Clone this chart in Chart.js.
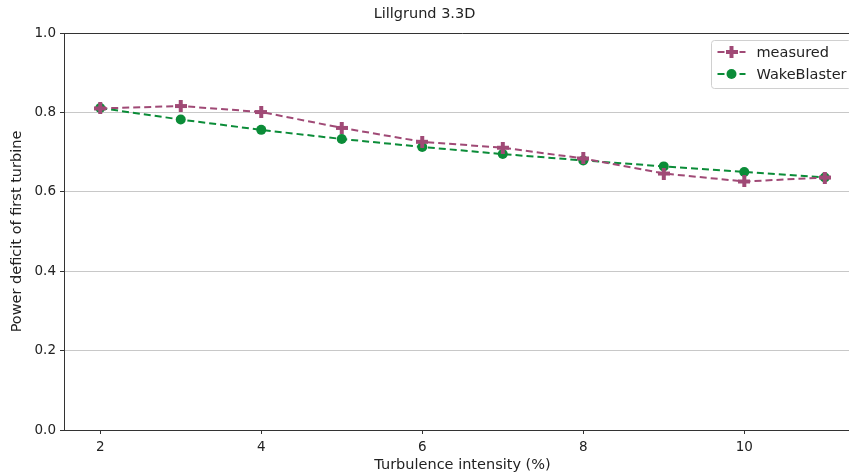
<!DOCTYPE html>
<html>
<head>
<meta charset="utf-8">
<script src="https://cdn.jsdelivr.net/npm/chart.js@4.4.1/dist/chart.umd.min.js"></script>
<style>
  html, body { margin: 0; padding: 0; background: #fff; overflow: hidden; }
  #wrap { width: 870px; height: 475px; }
</style>
</head>
<body>
<div id="wrap"><canvas id="myChart" width="870" height="475"></canvas></div>
<script>
// turbulence intensity (%)
const turbulence = [2, 3, 4, 5, 6, 7, 8, 9, 10, 11];
const measured = [0.810, 0.816, 0.801, 0.761, 0.726, 0.711, 0.684, 0.646, 0.626, 0.636];
const wakeBlaster = [0.811, 0.782, 0.756, 0.733, 0.713, 0.695, 0.679, 0.664, 0.650, 0.636];
const xTicks = [2, 4, 6, 8, 10];
const yTicks = [0, 0.2, 0.4, 0.6, 0.8, 1.0];
const chartTitle = 'Lillgrund 3.3D';

const purple = '#a04a76';
const green = '#0b8c38';
const font = 'DejaVu Sans';

// filled plus marker, like matplotlib 'P'
function plusMarker(color) {
    const c = document.createElement('canvas');
    c.width = 12; c.height = 12;
    const g = c.getContext('2d');
    g.fillStyle = color;
    g.fillRect(4, 0, 4, 12);
    g.fillRect(0, 4, 12, 4);
    return c;
}
const plusImg = plusMarker(purple);

function pts(ys) {
    return turbulence.map((x, i) => ({x: x, y: ys[i]}));
}

// title, top spine + matplotlib style legend box
const extras = {
    id: 'extras',
    afterDatasetsDraw(chart) {
        const ctx = chart.ctx;
        const a = chart.chartArea;
        ctx.save();
        ctx.strokeStyle = '#333';
        ctx.lineWidth = 1;
        ctx.beginPath();
        ctx.moveTo(a.left, a.top + 0.5);
        ctx.lineTo(a.right, a.top + 0.5);
        ctx.stroke();

        ctx.fillStyle = '#222';
        ctx.font = '14.5px "' + font + '"';
        ctx.textAlign = 'center';
        ctx.textBaseline = 'middle';
        ctx.fillText(chartTitle, 424.5, 14);

        // legend
        const bx = 711.5, by = 40.5, bw = 140, bh = 48;
        ctx.fillStyle = 'rgba(255,255,255,0.85)';
        ctx.strokeStyle = '#d0d0d0';
        ctx.beginPath();
        ctx.roundRect(bx, by, bw, bh, 3);
        ctx.fill();
        ctx.stroke();
        ctx.textAlign = 'left';
        chart.data.datasets.forEach((ds, i) => {
            const y = by + 11.5 + i * 22;
            ctx.strokeStyle = ds.borderColor;
            ctx.lineWidth = 2;
            ctx.setLineDash([7, 4]);
            ctx.beginPath();
            ctx.moveTo(bx + 6, y);
            ctx.lineTo(bx + 34, y);
            ctx.stroke();
            ctx.setLineDash([]);
            if (i === 0) {
                ctx.drawImage(plusImg, bx + 20 - 6, y - 6);
            } else {
                ctx.fillStyle = ds.borderColor;
                ctx.beginPath();
                ctx.arc(bx + 20, y, 5, 0, Math.PI * 2);
                ctx.fill();
            }
            ctx.fillStyle = '#222';
            ctx.font = '14.5px "' + font + '"';
            ctx.textBaseline = 'middle';
            ctx.fillText(ds.label, bx + 45, y + 1);
        });
        ctx.restore();
    }
};

var ctx = document.getElementById('myChart').getContext('2d');
var myChart = new Chart(ctx, {
    type: 'line',
    data: {
        datasets: [{
            label: 'measured',
            data: pts(measured),
            borderColor: purple,
            backgroundColor: purple,
            borderWidth: 2,
            borderDash: [7, 4],
            pointStyle: plusImg,
            fill: false,
            tension: 0
        }, {
            label: 'WakeBlaster',
            data: pts(wakeBlaster),
            borderColor: green,
            backgroundColor: green,
            borderWidth: 2,
            borderDash: [7, 4],
            pointStyle: 'circle',
            pointRadius: 5,
            pointBorderWidth: 0,
            fill: false,
            tension: 0
        }]
    },
    options: {
        responsive: false,
        animation: false,
        layout: { padding: { top: 33, right: 9, left: 0, bottom: 0 } },
        plugins: {
            legend: { display: false },
            tooltip: { enabled: false },
            title: { display: false }
        },
        scales: {
            x: {
                type: 'linear',
                min: 1.55,
                max: 11.45,
                afterBuildTicks: (s) => { s.ticks = xTicks.map(v => ({value: v})); },
                afterFit: (s) => { s.height = 45; },
                border: { color: '#333', width: 1 },
                grid: { drawOnChartArea: false, tickLength: 4, tickColor: '#333' },
                ticks: {
                    color: '#222',
                    font: { family: font, size: 13.5 },
                    padding: 5,
                    maxRotation: 0
                },
                title: {
                    display: true,
                    text: 'Turbulence intensity (%)',
                    color: '#222',
                    font: { family: font, size: 14.5 },
                    padding: { top: 0, bottom: 1 }
                }
            },
            y: {
                min: 0,
                max: 1,
                afterBuildTicks: (s) => { s.ticks = yTicks.map(v => ({value: v})); },
                afterFit: (s) => { s.width = 64; },
                border: { color: '#333', width: 1 },
                grid: { color: '#c8c8c8', tickLength: 4, tickColor: '#333' },
                ticks: {
                    color: '#222',
                    font: { family: font, size: 13.5 },
                    padding: 4,
                    callback: (v) => v.toFixed(1)
                },
                title: {
                    display: true,
                    text: 'Power deficit of first turbine',
                    color: '#222',
                    font: { family: font, size: 14.5 },
                    padding: { top: 9, bottom: 0 }
                }
            }
        }
    },
    plugins: [extras]
});
</script>
</body>
</html>
